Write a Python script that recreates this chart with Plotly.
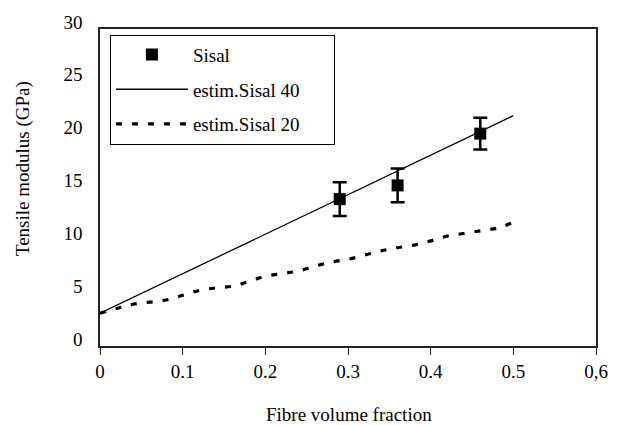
import plotly.graph_objects as go

# Measured data
sisal_x = [0.29, 0.36, 0.46]
sisal_y = [13.9, 15.2, 20.1]
sisal_err = [1.6, 1.6, 1.5]

est40_x = [0.0, 0.5]
est40_y = [3.1, 21.8]

est20_x = [0.0, 0.02, 0.04, 0.06, 0.08, 0.10, 0.12, 0.14, 0.16, 0.18, 0.20, 0.22, 0.24,
           0.26, 0.28, 0.30, 0.32, 0.34, 0.36, 0.38, 0.40, 0.42, 0.44, 0.46, 0.48, 0.50]
est20_y = [3.1, 3.55, 3.95, 4.15, 4.35, 4.8, 5.25, 5.5, 5.65, 6.1, 6.6, 6.85, 7.1,
           7.55, 7.95, 8.2, 8.6, 9.0, 9.3, 9.55, 9.95, 10.4, 10.65, 10.9, 11.15, 11.7]

x_tickvals = [0, 0.1, 0.2, 0.3, 0.4, 0.5, 0.6]
x_ticktext = ["0", "0.1", "0.2", "0.3", "0.4", "0.5", "0,6"]
y_tickvals = [0, 5, 10, 15, 20, 25, 30]

FONT = "Liberation Serif"
PAD = "\u00a0" * 6  # extra room at the right of the legend box

fig = go.Figure()
fig.add_trace(go.Scatter(
    x=sisal_x, y=sisal_y, mode="markers", name="Sisal", legendgroup="a",
    marker=dict(symbol="square", size=12, color="black"),
    error_y=dict(type="data", array=sisal_err, visible=True, color="black",
                 thickness=2.5, width=7),
))
fig.add_trace(go.Scatter(
    x=est40_x, y=est40_y, mode="lines", name="estim.Sisal 40" + PAD, legendgroup="b",
    line=dict(color="black", width=1.3),
))
fig.add_trace(go.Scatter(
    x=est20_x, y=est20_y, mode="lines", name="estim.Sisal 20" + PAD, legendgroup="c",
    line=dict(color="black", width=3.2, dash="6px,10px", shape="spline"),
))

fig.update_layout(
    width=620, height=425,
    margin=dict(l=100, r=13, t=25, b=79),
    paper_bgcolor="white", plot_bgcolor="white",
    font=dict(family=FONT, size=19, color="black"),
    showlegend=True,
    legend=dict(
        x=0.02, y=0.982, xanchor="left", yanchor="top",
        bordercolor="black", borderwidth=1, bgcolor="white",
        font=dict(family=FONT, size=19, color="black"),
        traceorder="grouped", tracegroupgap=7,
        itemwidth=72,
    ),
    xaxis=dict(
        range=[0, 0.6], tickvals=x_tickvals, ticktext=x_ticktext,
        showgrid=False, zeroline=False, showline=True, linecolor="#222",
        linewidth=1.5, mirror=True, ticks="outside", ticklen=7, tickcolor="#222",
        tickfont=dict(family=FONT, size=19),
    ),
    yaxis=dict(
        range=[0, 30], tickvals=y_tickvals,
        showgrid=False, zeroline=False, showline=True, linecolor="#222",
        linewidth=1.5, mirror=True, ticks="", ticklabelshift=-7, ticklabelstandoff=12,
        tickfont=dict(family=FONT, size=19),
    ),
    annotations=[
        dict(text="Tensile modulus (GPa)", xref="paper", yref="paper",
             x=-0.154, y=0.56, textangle=-90, showarrow=False,
             xanchor="center", yanchor="middle",
             font=dict(family=FONT, size=19)),
        dict(text="Fibre volume fraction", xref="paper", yref="paper",
             x=0.502, y=-0.215, showarrow=False, xanchor="center", yanchor="middle",
             font=dict(family=FONT, size=19)),
    ],
)

fig.write_html("out.html", config={"displayModeBar": False},
               post_script="document.body.style.margin='0';")
